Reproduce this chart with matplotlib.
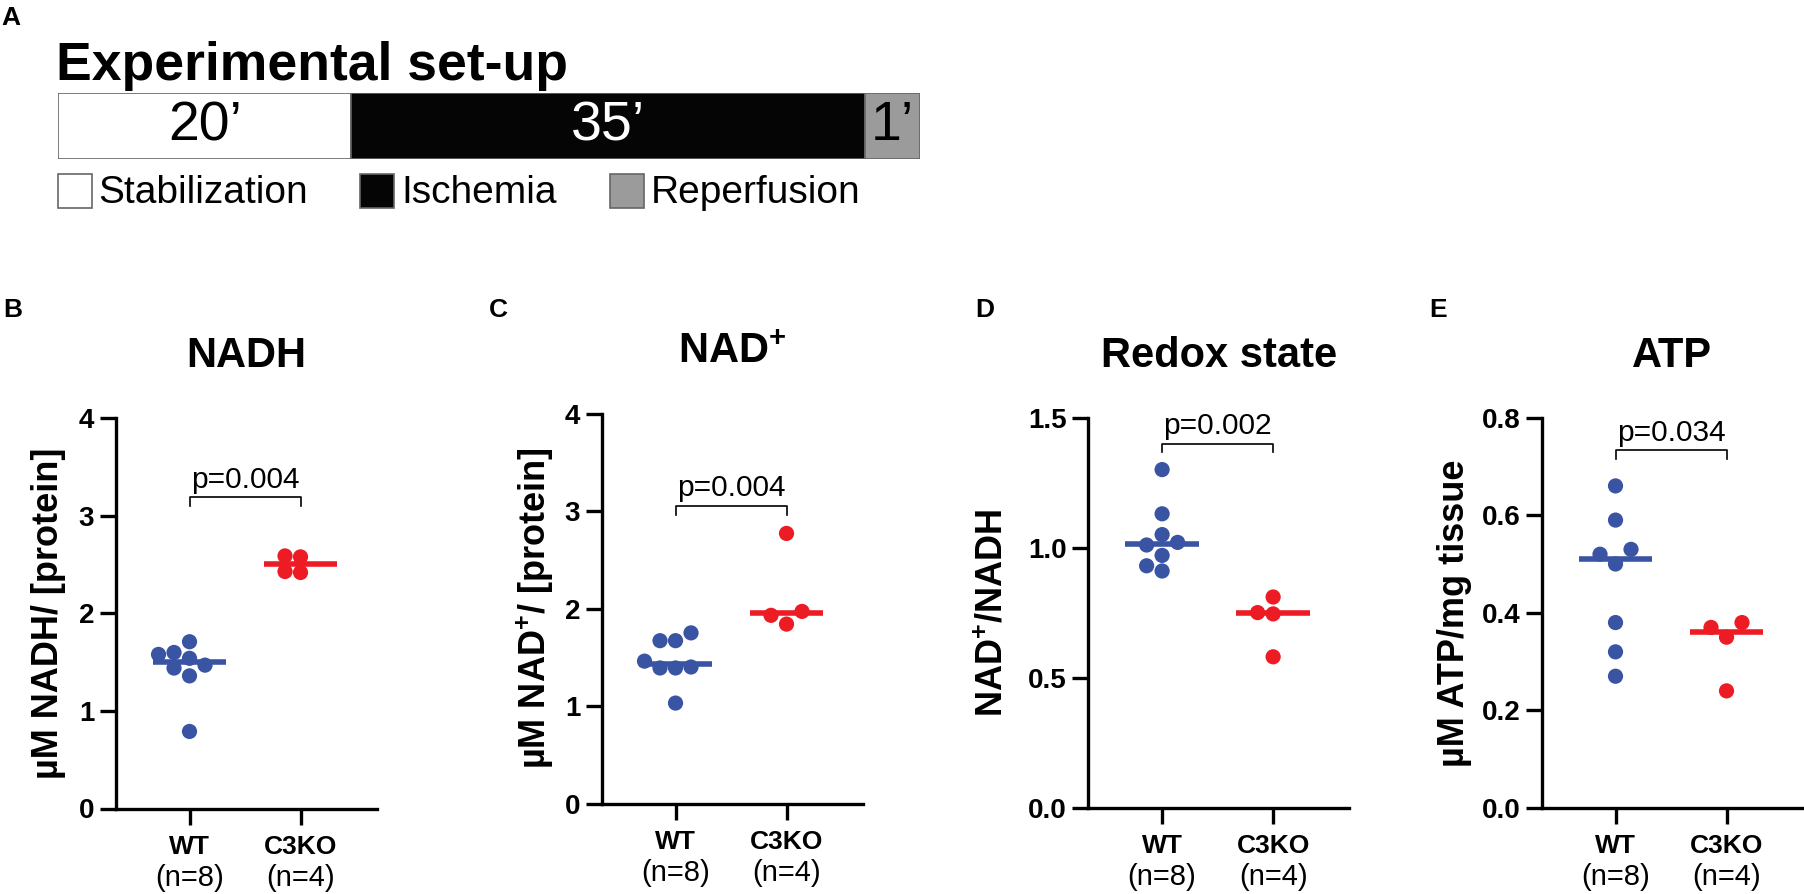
import numpy as np
import matplotlib
matplotlib.use('Agg')
import matplotlib.pyplot as plt
from matplotlib.patches import Rectangle

plt.rcParams['font.family'] = ['Liberation Sans', 'DejaVu Sans']
plt.rcParams['mathtext.fontset'] = 'custom'
plt.rcParams['mathtext.rm'] = 'Liberation Sans:bold'
plt.rcParams['mathtext.bf'] = 'Liberation Sans:bold'

# ---- data ----
phases = ['Stabilization', 'Ischemia', 'Reperfusion']
durations = [20, 35, 1]
duration_labels = ['20\u2019', '35\u2019', '1\u2019']

categories = ['WT', 'C3KO']
n_labels = ['(n=8)', '(n=4)']

nadh_wt = [0.79, 1.36, 1.44, 1.47, 1.54, 1.58, 1.60, 1.71]
nadh_c3ko = [2.42, 2.43, 2.58, 2.59]
nad_wt = [1.03, 1.39, 1.39, 1.40, 1.46, 1.67, 1.67, 1.75]
nad_c3ko = [1.84, 1.93, 1.97, 2.77]
redox_wt = [0.91, 0.93, 0.97, 1.01, 1.02, 1.05, 1.13, 1.30]
redox_c3ko = [0.58, 0.745, 0.75, 0.81]
atp_wt = [0.27, 0.32, 0.38, 0.50, 0.52, 0.53, 0.59, 0.66]
atp_c3ko = [0.24, 0.35, 0.37, 0.38]

p_values = ['p=0.004', 'p=0.004', 'p=0.002', 'p=0.034']

W, H = 1804, 894
fig = plt.figure(figsize=(W / 100, H / 100), dpi=100, facecolor='white')


def px_axes(l, t, r, b):
    return fig.add_axes([l / W, 1 - b / H, (r - l) / W, (b - t) / H])


def ftext(x, y, s, **kw):
    fig.text(x / W, 1 - y / H, s, **kw)


BLUE = '#3A54A4'
RED = '#ED1C24'

# --- Panel A: experimental set-up ---
ftext(1, 25, 'A', fontsize=19, fontweight='bold', va='baseline')
ftext(56, 80, 'Experimental set-up', fontsize=38.5, fontweight='bold', va='baseline')

bar_cols = ['white', '#050505', '#9B9B9B']
txt_cols = ['black', 'white', 'black']
shown = [max(d, 3.75) for d in durations]   # 1' segment widened so it can be read
lefts = np.concatenate([[0], np.cumsum(shown)[:-1]])
axb = px_axes(58, 93.3, 920, 159)
axb.barh(0.5, shown, left=lefts, height=1, color=bar_cols, edgecolor='#666666', linewidth=1.2)
for lf, w, lab, c in zip(lefts, shown, duration_labels, txt_cols):
    axb.text(lf + w / 2, 0.5, lab, ha='center', va='center', fontsize=40, color=c)
axb.set_xlim(0, sum(shown))
axb.set_ylim(0, 1)
axb.axis('off')

# legend
ax0 = fig.add_axes([0, 0, 1, 1], zorder=-1)
ax0.set_xlim(0, W)
ax0.set_ylim(H, 0)
ax0.axis('off')
leg_x = [57.7, 360, 610]
for x, name, c in zip(leg_x, phases, bar_cols):
    ax0.add_patch(Rectangle((x, 174.3), 34, 34, facecolor=c, edgecolor='#666666', linewidth=1.2))
    ax0.text(x + 41, 202.7, name, fontsize=28, va='baseline', ha='left')


# --- scatter panels ---
def swarm(values, ymax, h_px, unit_px, diam=15.5):
    placed, offs = [], []
    for v in values:
        y = v / ymax * h_px
        for k in [0, -1, 1, -2, 2, -3, 3]:
            x = k * diam
            if all((x - a) ** 2 + (y - b) ** 2 >= (0.97 * diam) ** 2 for a, b in placed):
                break
        placed.append((x, y))
        offs.append(x / unit_px)
    return np.array(offs)


panels = [
    dict(letter='B', title='NADH', ylabel='\u00b5M NADH/ [protein]', wt=nadh_wt, ko=nadh_c3ko,
         ymax=4, ticks=[0, 1, 2, 3, 4], fmt='{:.0f}', left=115.7, top=418.4, bottom=808.5,
         ylab_x=49, tbase=366.7, bracket=3.19),
    dict(letter='C', title='NAD$^{+}$', ylabel='\u00b5M NAD$^{+}$/ [protein]', wt=nad_wt, ko=nad_c3ko,
         ymax=4, ticks=[0, 1, 2, 3, 4], fmt='{:.0f}', left=601.7, top=413.5, bottom=803.5,
         ylab_x=535, tbase=363, bracket=3.05),
    dict(letter='D', title='Redox state', ylabel='NAD$^{+}$/NADH', wt=redox_wt, ko=redox_c3ko,
         ymax=1.5, ticks=[0, 0.5, 1.0, 1.5], fmt='{:.1f}', left=1088.3, top=417.6, bottom=807.6,
         ylab_x=993, tbase=366.7, bracket=1.40),
    dict(letter='E', title='ATP', ylabel='\u00b5M ATP/mg tissue', wt=atp_wt, ko=atp_c3ko,
         ymax=0.8, ticks=[0, 0.2, 0.4, 0.6, 0.8], fmt='{:.1f}', left=1541.7, top=417.6, bottom=808.0,
         ylab_x=1455, tbase=367, bracket=0.733),
]

AX_W = 261
UNIT = 111
X0 = -0.665

for p, pv in zip(panels, p_values):
    ax = px_axes(p['left'], p['top'], p['left'] + AX_W, p['bottom'])
    h_px = p['bottom'] - p['top']
    for i, (vals, col) in enumerate([(p['wt'], BLUE), (p['ko'], RED)]):
        vals = np.array(vals)
        xs = i + swarm(vals, p['ymax'], h_px, UNIT)
        med = np.median(vals)
        ax.plot([i - 0.33, i + 0.33], [med, med], color=col, lw=4, solid_capstyle='butt', zorder=2)
        ax.scatter(xs, vals, s=120, color=col, edgecolors='none', zorder=3, clip_on=False)

    # significance bracket
    yb = p['bracket']
    drop = 0.022 * p['ymax']
    ax.plot([0, 0, 1, 1], [yb - drop, yb, yb, yb - drop], color='black', lw=1.2, clip_on=False)
    ax.annotate(pv, xy=(0.5, yb), xytext=(0, 7), textcoords='offset points',
                ha='center', va='baseline', fontsize=21.5)

    ax.set_xlim(X0, X0 + AX_W / UNIT)
    ax.set_ylim(0, p['ymax'])
    ax.set_yticks(p['ticks'])
    ax.set_yticklabels([p['fmt'].format(t) for t in p['ticks']], fontsize=20, fontweight='bold')
    ax.set_xticks([0, 1])
    ax.set_xticklabels(['', ''])
    for s in ['top', 'right']:
        ax.spines[s].set_visible(False)
    for s in ['left', 'bottom']:
        ax.spines[s].set_linewidth(2.4)
    ax.tick_params(length=11.5, width=2.4, pad=4)

    for i, (cat, nl) in enumerate(zip(categories, n_labels)):
        ax.annotate(cat, xy=(i, 0), xycoords=('data', 'axes fraction'), xytext=(0, -27.7),
                    textcoords='offset points', ha='center', va='center',
                    fontsize=19, fontweight='bold')
        ax.annotate(nl, xy=(i, 0), xycoords=('data', 'axes fraction'), xytext=(0, -50),
                    textcoords='offset points', ha='center', va='center', fontsize=21)

    cx = p['left'] + AX_W / 2
    ftext(cx, p['tbase'], p['title'], fontsize=30, fontweight='bold', ha='center', va='baseline')
    ftext(p['left'] - 113.7 + 1, 316.7, p['letter'], fontsize=19, fontweight='bold', va='baseline')
    ftext(p['ylab_x'], (p['top'] + p['bottom']) / 2, p['ylabel'], fontsize=26, fontweight='bold',
          rotation=90, ha='center', va='center')

fig.savefig('out.png', dpi=100, facecolor='white')
